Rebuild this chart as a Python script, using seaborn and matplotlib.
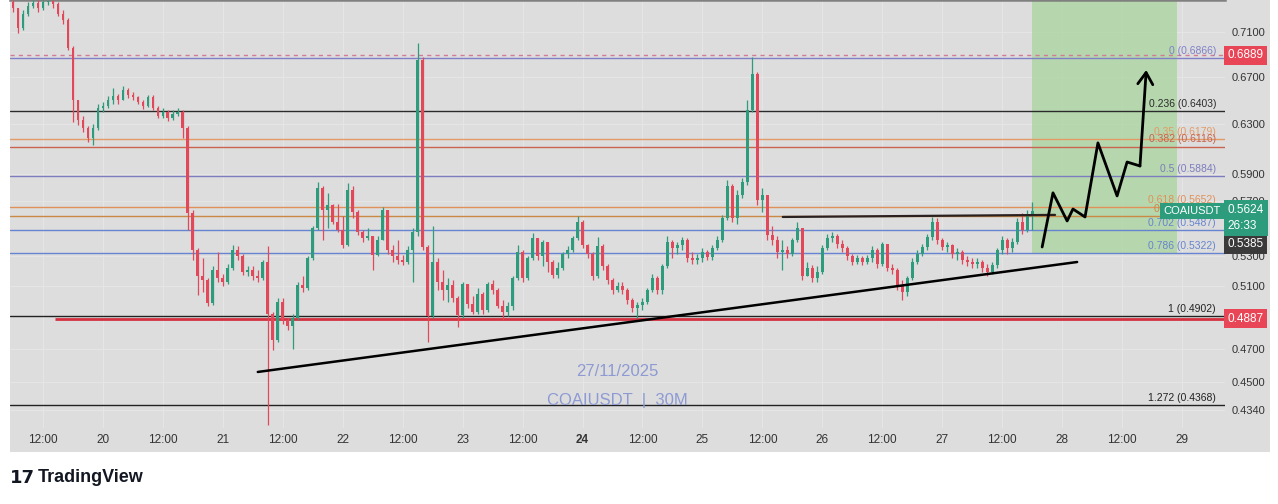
import numpy as np
import pandas as pd
import matplotlib
matplotlib.use("Agg")
import matplotlib.pyplot as plt
import matplotlib.dates as mdates
import matplotlib.transforms as mtransforms
from matplotlib.patches import Rectangle
from matplotlib.ticker import FuncFormatter, NullLocator
import seaborn as sns

# ---- hourly COAIUSDT candles (first candle 19 Nov 06:00) ----
first_open = 0.7383
closes = [
    0.7325, 0.7137, 0.7268, 0.7344, 0.7373, 0.7325, 0.7383, 0.7392, 0.7364, 0.7268,
    0.7212, 0.6954, 0.6498, 0.6331, 0.6265, 0.6185, 0.6265, 0.6431, 0.6448, 0.6498,
    0.6532, 0.6498, 0.6584, 0.6541, 0.6524, 0.6481, 0.6448, 0.6524, 0.6431, 0.6364,
    0.6397, 0.6348, 0.6381, 0.6397, 0.6265, 0.5609, 0.5345, 0.5168, 0.5141, 0.4989,
    0.5208, 0.5154, 0.5128, 0.5222, 0.5345, 0.5304, 0.5195, 0.5208, 0.5168, 0.5154,
    0.5262, 0.4918, 0.4754, 0.4995, 0.4880, 0.4842, 0.4893, 0.5108, 0.5087, 0.5290,
    0.5500, 0.5795, 0.5631, 0.5668, 0.5544, 0.5486, 0.5380, 0.5780, 0.5616, 0.5472,
    0.5429, 0.5443, 0.5310, 0.5415, 0.5631, 0.5345, 0.5304, 0.5276, 0.5262, 0.5345,
    0.5472, 0.6846, 0.5366, 0.4906, 0.5262, 0.5128, 0.5074, 0.5108, 0.5021, 0.4912,
    0.5114, 0.4982, 0.4931, 0.5048, 0.4944, 0.5114, 0.5074, 0.4970, 0.4931, 0.4970,
    0.5154, 0.5331, 0.5154, 0.5290, 0.5429, 0.5304, 0.5401, 0.5262, 0.5175, 0.5222,
    0.5317, 0.5345, 0.5429, 0.5544, 0.5380, 0.5317, 0.5168, 0.5373, 0.5235, 0.5141,
    0.5074, 0.5101, 0.5074, 0.5008, 0.4957, 0.4976, 0.4995, 0.5074, 0.5154, 0.5074,
    0.5235, 0.5401, 0.5359, 0.5380, 0.5415, 0.5290, 0.5276, 0.5290, 0.5331, 0.5297,
    0.5359, 0.5415, 0.5573, 0.5810, 0.5573, 0.5743, 0.5841, 0.6414, 0.6722, 0.5705,
    0.5743, 0.5450, 0.5415, 0.5331, 0.5345, 0.5317, 0.5415, 0.5500, 0.5168, 0.5222,
    0.5154, 0.5195, 0.5359, 0.5429, 0.5443, 0.5387, 0.5359, 0.5304, 0.5262, 0.5290,
    0.5262, 0.5290, 0.5345, 0.5249, 0.5387, 0.5222, 0.5208, 0.5101, 0.5061, 0.5154,
    0.5262, 0.5317, 0.5366, 0.5436, 0.5544, 0.5415, 0.5366, 0.5380, 0.5317, 0.5331,
    0.5276, 0.5262, 0.5249, 0.5262, 0.5222, 0.5195, 0.5242, 0.5345, 0.5415, 0.5359,
    0.5401, 0.5544, 0.5486, 0.5602, 0.5624,
]
highs = [
    0.7402, 0.7306, 0.7306, 0.7383, 0.7402, 0.7402, 0.7402, 0.7402, 0.7402, 0.7383,
    0.7306, 0.7231, 0.6972, 0.6464, 0.6364, 0.6282, 0.6298, 0.6464, 0.6481, 0.6532,
    0.6601, 0.6549, 0.6618, 0.6601, 0.6567, 0.6532, 0.6498, 0.6541, 0.6541, 0.6448,
    0.6431, 0.6414, 0.6414, 0.6431, 0.6414, 0.6282, 0.5631, 0.5359, 0.5290, 0.5154,
    0.5235, 0.5331, 0.5181, 0.5249, 0.5380, 0.5373, 0.5317, 0.5235, 0.5235, 0.5208,
    0.5276, 0.5373, 0.4931, 0.5021, 0.5021, 0.4893, 0.4918, 0.5128, 0.5168, 0.5304,
    0.5515, 0.5841, 0.5810, 0.5758, 0.5675, 0.5675, 0.5587, 0.5833, 0.5810, 0.5631,
    0.5486, 0.5500, 0.5443, 0.5443, 0.5653, 0.5631, 0.5380, 0.5415, 0.5310, 0.5373,
    0.5500, 0.6999, 0.6873, 0.5380, 0.5515, 0.5290, 0.5208, 0.5154, 0.5141, 0.5034,
    0.5128, 0.5101, 0.5034, 0.5087, 0.5061, 0.5128, 0.5141, 0.5087, 0.5008, 0.4995,
    0.5168, 0.5380, 0.5345, 0.5304, 0.5465, 0.5415, 0.5415, 0.5394, 0.5276, 0.5262,
    0.5331, 0.5373, 0.5443, 0.5587, 0.5558, 0.5387, 0.5331, 0.5436, 0.5387, 0.5249,
    0.5154, 0.5128, 0.5128, 0.5087, 0.5021, 0.4995, 0.5021, 0.5087, 0.5181, 0.5168,
    0.5249, 0.5443, 0.5415, 0.5401, 0.5436, 0.5429, 0.5331, 0.5317, 0.5359, 0.5345,
    0.5380, 0.5443, 0.5595, 0.5856, 0.5825, 0.5780, 0.5871, 0.6498, 0.6873, 0.6740,
    0.5795, 0.5743, 0.5515, 0.5443, 0.5415, 0.5373, 0.5429, 0.5544, 0.5486, 0.5262,
    0.5242, 0.5235, 0.5380, 0.5458, 0.5472, 0.5458, 0.5415, 0.5373, 0.5317, 0.5310,
    0.5304, 0.5310, 0.5373, 0.5359, 0.5401, 0.5387, 0.5249, 0.5222, 0.5141, 0.5168,
    0.5290, 0.5345, 0.5387, 0.5458, 0.5580, 0.5573, 0.5429, 0.5401, 0.5387, 0.5359,
    0.5345, 0.5304, 0.5290, 0.5290, 0.5276, 0.5249, 0.5262, 0.5359, 0.5443, 0.5429,
    0.5429, 0.5573, 0.5609, 0.5631, 0.5690,
]
lows = [
    0.7287, 0.7091, 0.7118, 0.7250, 0.7325, 0.7287, 0.7306, 0.7354, 0.7325, 0.7250,
    0.7174, 0.6936, 0.6315, 0.6290, 0.6233, 0.6153, 0.6129, 0.6249, 0.6397, 0.6431,
    0.6464, 0.6464, 0.6498, 0.6515, 0.6498, 0.6464, 0.6422, 0.6439, 0.6414, 0.6348,
    0.6348, 0.6323, 0.6331, 0.6364, 0.6185, 0.5486, 0.5276, 0.5041, 0.5061, 0.4970,
    0.4976, 0.5128, 0.5101, 0.5114, 0.5208, 0.5276, 0.5175, 0.5168, 0.5141, 0.5128,
    0.5141, 0.4256, 0.4693, 0.4742, 0.4855, 0.4817, 0.4699, 0.4880, 0.5061, 0.5074,
    0.5276, 0.5486, 0.5415, 0.5500, 0.5529, 0.5472, 0.5359, 0.5373, 0.5573, 0.5450,
    0.5401, 0.5415, 0.5208, 0.5304, 0.5415, 0.5317, 0.5262, 0.5249, 0.5242, 0.5249,
    0.5128, 0.5443, 0.5345, 0.4742, 0.4893, 0.5074, 0.5008, 0.4995, 0.4995, 0.4836,
    0.4893, 0.4957, 0.4918, 0.4918, 0.4918, 0.4931, 0.5048, 0.4957, 0.4880, 0.4906,
    0.4944, 0.5141, 0.5128, 0.5141, 0.5276, 0.5276, 0.5235, 0.5195, 0.5154, 0.5154,
    0.5208, 0.5290, 0.5331, 0.5415, 0.5359, 0.5290, 0.5141, 0.5154, 0.5208, 0.5114,
    0.5048, 0.5061, 0.5048, 0.4982, 0.4931, 0.4893, 0.4944, 0.4982, 0.5061, 0.5048,
    0.5048, 0.5222, 0.5290, 0.5317, 0.5345, 0.5262, 0.5249, 0.5249, 0.5262, 0.5276,
    0.5276, 0.5345, 0.5401, 0.5558, 0.5544, 0.5529, 0.5720, 0.5818, 0.6397, 0.5668,
    0.5616, 0.5415, 0.5380, 0.5290, 0.5208, 0.5290, 0.5304, 0.5401, 0.5141, 0.5168,
    0.5128, 0.5128, 0.5181, 0.5345, 0.5401, 0.5359, 0.5331, 0.5276, 0.5242, 0.5249,
    0.5242, 0.5249, 0.5262, 0.5222, 0.5235, 0.5201, 0.5181, 0.5074, 0.5008, 0.5034,
    0.5141, 0.5249, 0.5304, 0.5345, 0.5415, 0.5387, 0.5345, 0.5331, 0.5290, 0.5276,
    0.5249, 0.5235, 0.5222, 0.5222, 0.5195, 0.5168, 0.5181, 0.5222, 0.5317, 0.5317,
    0.5331, 0.5387, 0.5458, 0.5472, 0.5486,
]

# ---- fibonacci retracement ----
fib_ratios = [0, 0.236, 0.35, 0.382, 0.5, 0.618, 0.65, 0.702, 0.786, 1, 1.272]
fib_prices = [0.6866, 0.6403, 0.6179, 0.6116, 0.5884, 0.5652, 0.5589, 0.5487, 0.5322, 0.4902, 0.4368]
fib_colors = ["#7f80c6", "#2b2b2b", "#e39a66", "#c8644f", "#7c7cbf", "#e0915a",
              "#c98a45", "#6684cf", "#6684cf", "#222222", "#222222"]

# ---- drawings ----
trend_t = ["2025-11-21 07:00", "2025-11-28 03:00"]
trend_p = [0.4560, 0.5262]
resist_t = ["2025-11-25 16:05", "2025-11-27 22:35"]
resist_p = [0.5580, 0.5595]
path_t = ["2025-11-27 20:00", "2025-11-27 22:10", "2025-11-28 01:00", "2025-11-28 02:10",
          "2025-11-28 04:35", "2025-11-28 07:10", "2025-11-28 11:00", "2025-11-28 13:00",
          "2025-11-28 15:35", "2025-11-28 16:50"]
path_p = [0.5366, 0.5758, 0.5551, 0.5638, 0.5580, 0.6145, 0.5735, 0.5994, 0.5963, 0.6757]
box_t = ["2025-11-27 17:55", "2025-11-28 23:00"]
box_bottom = 0.5322
alert_price = 0.6889
support_price = 0.4887
support_start = "2025-11-19 14:25"
last_price = 0.5624
marker_price = 0.5385
countdown = "26:33"
y_ticks = [0.7100, 0.6700, 0.6300, 0.5900, 0.5700, 0.5300, 0.5100, 0.4700, 0.4500, 0.4340]

BG = "#dddddd"
UP = "#2c9c7d"
DOWN = "#e2475a"

sns.set_theme(style="white")
plt.rcParams["font.family"] = ["Liberation Sans", "DejaVu Sans"]

W, H = 1278, 504
fig = plt.figure(figsize=(W / 100, H / 100), dpi=100)
fig.patch.set_facecolor("white")
fig.patches.append(Rectangle((10 / W, 1 - 452 / H), 1260 / W, 452 / H,
                             transform=fig.transFigure, fc=BG, ec="none", zorder=-1))
ax = fig.add_axes([10 / W, 1 - 428 / H, 1215 / W, 428 / H])
ax.set_facecolor(BG)
ax.set_yscale("log")

to_num = lambda ts: mdates.date2num(pd.to_datetime(ts))

# candles
closes = np.array(closes)
opens = np.r_[first_open, closes[:-1]]
highs = np.maximum(np.array(highs), np.maximum(opens, closes))
lows = np.minimum(np.array(lows), np.minimum(opens, closes))
times = pd.date_range("2025-11-19 06:00", periods=len(closes), freq="h")
x = mdates.date2num(times)
cols = np.where(closes >= opens, UP, DOWN)
ax.vlines(x, lows, highs, colors=cols, lw=0.9, zorder=4)
body_lo = np.minimum(opens, closes)
body_hi = np.maximum(np.maximum(opens, closes), body_lo * 1.0015)
ax.bar(x, body_hi - body_lo, bottom=body_lo, width=0.55 / 24, color=cols, lw=0, zorder=5)

# target box
bx = to_num(box_t)
ax.fill_between(bx, box_bottom, 0.8, color="#a9d69d", alpha=0.75, lw=0, zorder=1)

# fib levels
blend = mtransforms.blended_transform_factory(ax.transAxes, ax.transData)
for r, p, c in zip(fib_ratios, fib_prices, fib_colors):
    ax.axhline(p, color=c, lw=1, zorder=2)
    ax.annotate(f"{r:g} ({p:.4f})", xy=(0.9926, p), xycoords=blend, xytext=(0, 1.5),
                textcoords="offset points", ha="right", va="bottom", fontsize=7.5,
                color=c, zorder=6)

ax.axhline(alert_price, color="#d27b95", lw=1, ls=(0, (3, 3)), zorder=2)
ax.hlines(support_price, to_num(support_start), to_num("2025-11-30"), color="#d5303f",
          lw=2, zorder=3)

# trend lines and projected path
sns.lineplot(x=to_num(trend_t), y=trend_p, color="black", lw=1.8, ax=ax, sort=False, zorder=6)
sns.lineplot(x=to_num(resist_t), y=resist_p, color="#2a2020", lw=1.6, ax=ax, sort=False, zorder=6)
px = to_num(path_t)
sns.lineplot(x=px[:-1], y=path_p[:-1], color="black", lw=2, ax=ax, sort=False, zorder=7)
ax.annotate("", xy=(px[-1], path_p[-1]), xytext=(px[-2], path_p[-2]),
            arrowprops=dict(arrowstyle="->,head_length=0.7,head_width=0.45", color="black",
                            lw=2, shrinkA=0, shrinkB=0), zorder=7)

# axes
ax.set_xlim(to_num("2025-11-19 05:24"), to_num("2025-11-29 08:36"))
ax.set_ylim(0.4239, 0.7402)
ax.yaxis.tick_right()
ax.set_yticks(y_ticks)
ax.yaxis.set_major_formatter(FuncFormatter(lambda v, _: f"{v:.4f}"))
ax.yaxis.set_minor_locator(NullLocator())
xt = pd.date_range("2025-11-19 12:00", "2025-11-29 00:00", freq="12h")
ax.set_xticks(mdates.date2num(xt))
ax.set_xticklabels(["12:00" if t.hour == 12 else str(t.day) for t in xt])
for lab in ax.get_xticklabels():
    if lab.get_text() == "24":
        lab.set_fontweight("bold")
ax.tick_params(axis="y", length=0, pad=5, labelsize=8, labelcolor="#333333")
ax.tick_params(axis="x", length=0, pad=4, labelsize=8.5, labelcolor="#333333")
ax.grid(True, color="#e5e5e5", lw=0.8, zorder=0)
for s in ["left", "right", "bottom"]:
    ax.spines[s].set_visible(False)
ax.spines["top"].set_color("#808080")
ax.spines["top"].set_linewidth(1.8)
ax.set_xlabel("")
ax.set_ylabel("")

# price scale labels
def price_box(price, text, fc, dy=0):
    ax.annotate(text, xy=(1.0, price), xycoords=blend, xytext=(2, dy),
                textcoords="offset points", ha="left", va="center", fontsize=8.5,
                color="white", linespacing=1.5, annotation_clip=False, zorder=10,
                bbox=dict(boxstyle="square,pad=0.3", fc=fc, ec="none"))

price_box(alert_price, f"{alert_price:.4f}", "#e84657")
price_box(support_price, f"{support_price:.4f}", "#e84657")
price_box(marker_price, f"{marker_price:.4f}", "#3a3a3a")
price_box(last_price, f"{last_price:.4f}\n{countdown}", UP, dy=-5)
ax.annotate("COAIUSDT", xy=(1.0, last_price), xycoords=blend, xytext=(-3, 0),
            textcoords="offset points", ha="right", va="center", fontsize=8,
            color="white", annotation_clip=False, zorder=10,
            bbox=dict(boxstyle="square,pad=0.3", fc=UP, ec="none"))

# watermark
fig.text(617 / W, 1 - 372 / H, "27/11/2025", ha="center", va="center", fontsize=12,
         color="#8d9ad4")
fig.text(617 / W, 1 - 400 / H, "COAIUSDT  |  30M", ha="center", va="center", fontsize=12,
         color="#8d9ad4")

# brand
fig.text(10 / W, 1 - 478 / H, "17", ha="left", va="center", fontsize=13,
         fontweight="heavy", color="#131722", family="DejaVu Sans")
fig.text(38 / W, 1 - 478 / H, "TradingView", ha="left", va="center", fontsize=13,
         fontweight="bold", color="#131722")

fig.savefig("out.png", dpi=100, facecolor="white")
